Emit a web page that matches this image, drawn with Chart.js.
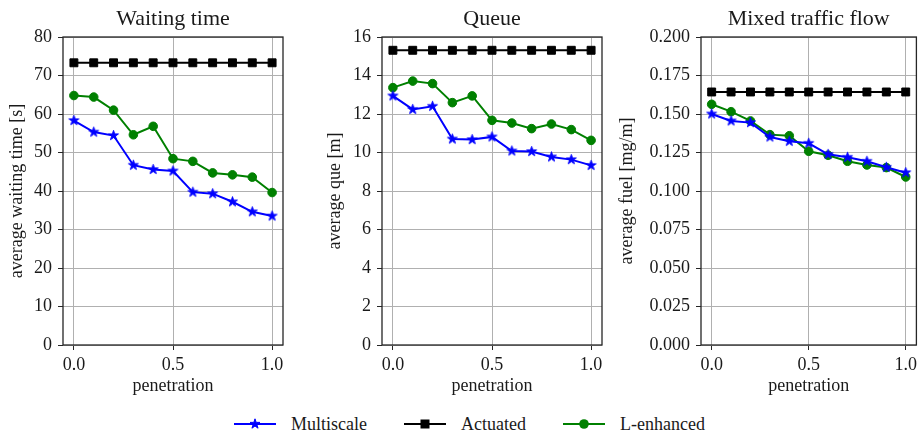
<!DOCTYPE html>
<html>
<head>
<meta charset="utf-8">
<script src="https://cdn.jsdelivr.net/npm/chart.js@4"></script>
<style>
  html, body { margin: 0; padding: 0; background: #fff; }
  #wrap { position: relative; width: 923px; height: 436px; overflow: hidden; font-family: "Liberation Serif", serif; }
  canvas.plot { position: absolute; top: 0; }
  .leg { position: absolute; top: 413px; height: 22px; display: flex; align-items: center; font-family: "Liberation Serif", serif; font-size: 18px; color: #1a1a1a; }
  .leg svg { margin-right: 15px; }
</style>
</head>
<body>
<div id="wrap">
  <canvas id="c-wait" class="plot" width="290" height="400" style="left:0px"></canvas>
  <canvas id="c-queue" class="plot" width="292" height="400" style="left:318px"></canvas>
  <canvas id="c-fuel" class="plot" width="313" height="400" style="left:610px"></canvas>
  <div id="legend"></div>
</div>
<script>
// shared x values (penetration rate)
const penetration = [0.0, 0.1, 0.2, 0.3, 0.4, 0.5, 0.6, 0.7, 0.8, 0.9, 1.0]
const xTicks = [0.0, 0.5, 1.0]

// Waiting time [s]
const waitMultiscale = [58.3, 55.3, 54.4, 46.7, 45.6, 45.2, 39.7, 39.3, 37.2, 34.6, 33.5]
const waitActuated   = [73.3, 73.3, 73.3, 73.3, 73.3, 73.3, 73.3, 73.3, 73.3, 73.3, 73.3]
const waitLEnhanced  = [64.8, 64.4, 61.0, 54.6, 56.8, 48.4, 47.7, 44.7, 44.2, 43.6, 39.6]

// Queue [m]
const queueMultiscale = [12.94, 12.24, 12.40, 10.70, 10.67, 10.81, 10.08, 10.05, 9.77, 9.63, 9.33]
const queueActuated   = [15.31, 15.31, 15.31, 15.31, 15.31, 15.31, 15.31, 15.31, 15.31, 15.31, 15.31]
const queueLEnhanced  = [13.37, 13.71, 13.58, 12.59, 12.94, 11.67, 11.53, 11.24, 11.48, 11.19, 10.63]

// Fuel [mg/m]
const fuelMultiscale = [0.1500, 0.1455, 0.1444, 0.1351, 0.1323, 0.1310, 0.1238, 0.1219, 0.1193, 0.1154, 0.1119]
const fuelActuated   = [0.1643, 0.1643, 0.1643, 0.1643, 0.1643, 0.1643, 0.1643, 0.1643, 0.1643, 0.1643, 0.1643]
const fuelLEnhanced  = [0.1563, 0.1515, 0.1455, 0.1366, 0.1359, 0.1258, 0.1232, 0.1193, 0.1169, 0.1152, 0.1091]

const SERIES = [
  { label: 'Multiscale', color: '#0000ff', marker: 'star' },
  { label: 'Actuated',   color: '#000000', marker: 'square' },
  { label: 'L-enhanced', color: '#008000', marker: 'circle' }
]

const FONT = '"Liberation Serif", serif'
const TEXT = '#1a1a1a'
const SPINE = '#262626'

Chart.defaults.font.family = FONT
Chart.defaults.color = TEXT

// filled 5-point star like matplotlib's '*'
function starCanvas(color, outer) {
  const c = document.createElement('canvas')
  const s = Math.ceil(outer * 2 + 4)
  c.width = s; c.height = s
  const g = c.getContext('2d')
  const inner = outer * 0.381966
  g.beginPath()
  for (let i = 0; i < 10; i++) {
    const r = i % 2 ? inner : outer
    const a = -Math.PI / 2 + i * Math.PI / 5
    const px = s / 2 + r * Math.cos(a), py = s / 2 + r * Math.sin(a)
    i ? g.lineTo(px, py) : g.moveTo(px, py)
  }
  g.closePath()
  g.fillStyle = color
  g.strokeStyle = color
  g.lineWidth = 1
  g.fill(); g.stroke()
  return c
}
const starImg = starCanvas('#0000ff', 5.2)

function dataset(s, values) {
  const base = {
    label: s.label,
    data: penetration.map((x, i) => ({ x, y: values[i] })),
    borderColor: s.color,
    backgroundColor: s.color,
    pointBackgroundColor: s.color,
    pointBorderColor: s.color,
    borderWidth: 2,
    tension: 0,
    pointBorderWidth: 1
  }
  if (s.marker === 'star') { base.pointStyle = starImg; base.pointRadius = 5 }
  if (s.marker === 'square') { base.pointStyle = 'rect'; base.pointRadius = 5.6 }
  if (s.marker === 'circle') { base.pointStyle = 'circle'; base.pointRadius = 4.3 }
  return base
}

// title centred over the axes + full box frame (matplotlib style)
const framePlugin = {
  id: 'frame',
  afterDraw(chart, args, opts) {
    const { ctx, chartArea: a } = chart
    ctx.save()
    ctx.strokeStyle = SPINE
    ctx.lineWidth = 1.3
    ctx.strokeRect(a.left, a.top, a.right - a.left, a.bottom - a.top)
    ctx.fillStyle = TEXT
    ctx.font = `22px ${FONT}`
    ctx.textAlign = 'center'
    ctx.textBaseline = 'middle'
    ctx.fillText(opts.title, (a.left + a.right) / 2, 19)
    ctx.restore()
  }
}

function makeChart(id, cfg) {
  const tickFont = { family: FONT, size: 18 }
  return new Chart(document.getElementById(id), {
    type: 'line',
    data: { datasets: cfg.values.map((v, i) => dataset(SERIES[i], v)) },
    options: {
      responsive: false,
      animation: false,
      layout: { padding: { top: 37, right: cfg.padRight, left: 0, bottom: 0 } },
      plugins: {
        legend: { display: false },
        tooltip: { enabled: false },
        frame: { title: cfg.title }
      },
      scales: {
        x: {
          type: 'linear',
          min: -0.055, max: 1.055,
          afterBuildTicks: sc => { sc.ticks = xTicks.map(v => ({ value: v })) },
          afterFit: sc => { sc.height = 55 },
          grid: { color: '#b0b0b0', lineWidth: 1, tickColor: SPINE, tickLength: 5 },
          border: { display: false },
          ticks: { font: tickFont, color: TEXT, padding: 4, maxRotation: 0, callback: v => v.toFixed(1) },
          title: { display: true, text: 'penetration', font: tickFont, color: TEXT, padding: { top: 0, bottom: 3 } }
        },
        y: {
          min: cfg.yMin, max: cfg.yMax,
          afterFit: sc => { sc.width = cfg.yWidth },
          grid: { color: '#b0b0b0', lineWidth: 1, tickColor: SPINE, tickLength: 5 },
          border: { display: false },
          ticks: { font: tickFont, color: TEXT, padding: 6, stepSize: cfg.yStep, callback: v => v.toFixed(cfg.yDec) },
          title: { display: true, text: cfg.yLabel, font: tickFont, color: TEXT, padding: { top: 6, bottom: 0 } }
        }
      }
    },
    plugins: [framePlugin]
  })
}

makeChart('c-wait', {
  title: 'Waiting time', yLabel: 'average waiting time [s]',
  values: [waitMultiscale, waitActuated, waitLEnhanced],
  yMin: 0, yMax: 80, yStep: 10, yDec: 0, yWidth: 63, padRight: 7
})
makeChart('c-queue', {
  title: 'Queue', yLabel: 'average que [m]',
  values: [queueMultiscale, queueActuated, queueLEnhanced],
  yMin: 0, yMax: 16, yStep: 2, yDec: 0, yWidth: 64, padRight: 8
})
makeChart('c-fuel', {
  title: 'Mixed traffic flow', yLabel: 'average fuel [mg/m]',
  values: [fuelMultiscale, fuelActuated, fuelLEnhanced],
  yMin: 0, yMax: 0.2, yStep: 0.025, yDec: 3, yWidth: 91, padRight: 2
})

// figure legend below the panels
function legendMarker(s) {
  if (s.marker === 'star') {
    const pts = []
    for (let i = 0; i < 10; i++) {
      const r = i % 2 ? 2 : 5.2
      const a = -Math.PI / 2 + i * Math.PI / 5
      pts.push((21 + r * Math.cos(a)).toFixed(2) + ',' + (11 + r * Math.sin(a)).toFixed(2))
    }
    return `<polygon points="${pts.join(' ')}" fill="${s.color}" stroke="${s.color}" stroke-width="1"/>`
  }
  if (s.marker === 'square') return `<rect x="16.5" y="6.5" width="9" height="9" fill="${s.color}"/>`
  return `<circle cx="21" cy="11" r="4.8" fill="${s.color}"/>`
}
const legendLeft = [234, 404, 563]
document.getElementById('legend').innerHTML = SERIES.map((s, i) => `
  <div class="leg" style="left:${legendLeft[i]}px">
    <svg width="42" height="22"><line x1="0" y1="11" x2="42" y2="11" stroke="${s.color}" stroke-width="2"/>${legendMarker(s)}</svg>
    <span>${s.label}</span>
  </div>`).join('')
</script>
</body>
</html>
